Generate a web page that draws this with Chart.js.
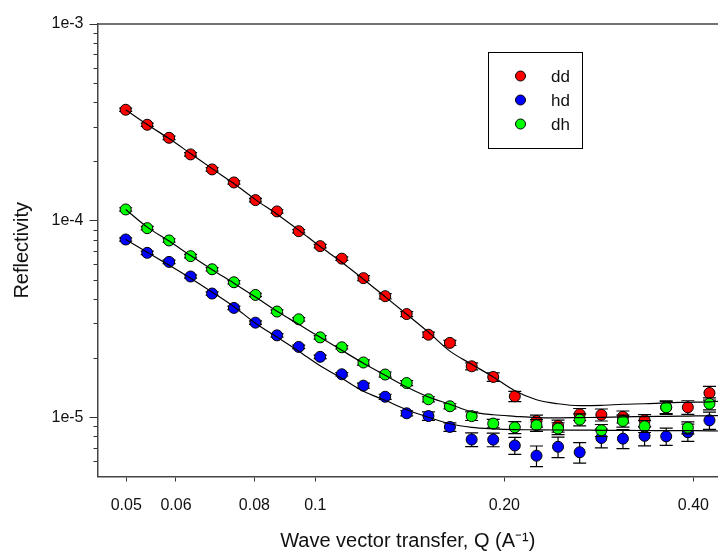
<!DOCTYPE html>
<html>
<head>
<meta charset="utf-8">
<script src="https://cdn.jsdelivr.net/npm/chart.js@4.4.0/dist/chart.umd.min.js"></script>
<style>
  html, body { margin: 0; padding: 0; background: #fff; }
  canvas { display: block; }
</style>
</head>
<body>
<canvas id="refl" width="718" height="559"></canvas>
<script>
// Q values of the measured points (A^-1)
var qData = [0.0499, 0.0540, 0.0585, 0.0633, 0.0685, 0.0742, 0.0803, 0.0869, 0.0941, 0.1018,
             0.1102, 0.1193, 0.1292, 0.1398, 0.1514, 0.1638, 0.1774, 0.1920, 0.2078, 0.2250,
             0.2435, 0.2636, 0.2854, 0.3089, 0.3344, 0.3620, 0.3919, 0.4242];

var ddR = [3.664e-4, 3.074e-4, 2.638e-4, 2.172e-4, 1.822e-4, 1.564e-4, 1.272e-4, 1.114e-4, 8.84e-5, 7.42e-5,
           6.41e-5, 5.10e-5, 4.13e-5, 3.35e-5, 2.63e-5, 2.39e-5, 1.817e-5, 1.604e-5, 1.279e-5, 9.58e-6,
           9.05e-6, 1.036e-5, 1.030e-5, 1.006e-5, 9.65e-6, 1.124e-5, 1.124e-5, 1.329e-5];
var hdR = [8.02e-5, 6.86e-5, 6.17e-5, 5.20e-5, 4.26e-5, 3.60e-5, 3.03e-5, 2.61e-5, 2.28e-5, 2.03e-5,
           1.655e-5, 1.449e-5, 1.272e-5, 1.048e-5, 1.015e-5, 8.93e-6, 7.71e-6, 7.70e-6, 7.19e-6, 6.38e-6,
           7.08e-6, 6.64e-6, 7.85e-6, 7.79e-6, 8.05e-6, 8.00e-6, 8.39e-6, 9.65e-6];
var dhR = [1.140e-4, 9.16e-5, 7.93e-5, 6.60e-5, 5.66e-5, 4.86e-5, 4.19e-5, 3.45e-5, 3.15e-5, 2.55e-5,
           2.27e-5, 1.90e-5, 1.650e-5, 1.493e-5, 1.235e-5, 1.138e-5, 1.014e-5, 9.29e-6, 8.89e-6, 9.11e-6,
           8.77e-6, 9.73e-6, 8.59e-6, 9.58e-6, 9.00e-6, 1.124e-5, 8.86e-6, 1.172e-5];

// relative errors (fraction of the value)
var ddErr = [0.02, 0.02, 0.02, 0.02, 0.02, 0.02, 0.02, 0.02, 0.02, 0.02,
             0.02, 0.03, 0.03, 0.03, 0.03, 0.03, 0.04, 0.05, 0.06, 0.07,
             0.07, 0.07, 0.07, 0.07, 0.07, 0.08, 0.08, 0.08];
var hdErr = [0.02, 0.02, 0.02, 0.02, 0.02, 0.02, 0.02, 0.02, 0.02, 0.02,
             0.02, 0.03, 0.03, 0.03, 0.05, 0.05, 0.08, 0.08, 0.10, 0.12,
             0.12, 0.12, 0.11, 0.11, 0.11, 0.10, 0.10, 0.10];
var dhErr = [0.02, 0.02, 0.02, 0.02, 0.02, 0.02, 0.02, 0.02, 0.02, 0.02,
             0.02, 0.03, 0.03, 0.03, 0.03, 0.03, 0.05, 0.05, 0.07, 0.07,
             0.07, 0.07, 0.07, 0.07, 0.07, 0.07, 0.07, 0.07];

// fitted curves
var qFit = [0.0499, 0.0540, 0.0585, 0.0633, 0.0685, 0.0742, 0.0803, 0.0869, 0.0941, 0.1018,
            0.1102, 0.1193, 0.1292, 0.1398, 0.1514, 0.1638, 0.1774, 0.1920, 0.2078, 0.2250,
            0.2435, 0.2636, 0.2854, 0.3089, 0.3344, 0.3620, 0.3919, 0.4242, 0.4377];
var ddFit = [3.664e-4, 3.08e-4, 2.614e-4, 2.193e-4, 1.839e-4, 1.543e-4, 1.279e-4, 1.079e-4, 8.95e-5, 7.38e-5,
             6.15e-5, 5.04e-5, 4.10e-5, 3.34e-5, 2.71e-5, 2.17e-5, 1.861e-5, 1.604e-5, 1.364e-5, 1.228e-5,
             1.172e-5, 1.147e-5, 1.151e-5, 1.165e-5, 1.172e-5, 1.185e-5, 1.192e-5, 1.199e-5, 1.206e-5];
var hdFit = [8.02e-5, 6.91e-5, 5.94e-5, 5.10e-5, 4.33e-5, 3.65e-5, 3.01e-5, 2.56e-5, 2.17e-5, 1.829e-5,
             1.579e-5, 1.356e-5, 1.220e-5, 1.092e-5, 1.0e-5, 9.27e-6, 8.89e-6, 8.74e-6, 8.66e-6, 8.64e-6,
             8.62e-6, 8.61e-6, 8.59e-6, 8.58e-6, 8.57e-6, 8.56e-6, 8.55e-6, 8.54e-6, 8.52e-6];
var dhFit = [1.140e-4, 9.27e-5, 7.87e-5, 6.64e-5, 5.63e-5, 4.81e-5, 4.09e-5, 3.46e-5, 2.97e-5, 2.55e-5,
             2.19e-5, 1.883e-5, 1.636e-5, 1.426e-5, 1.269e-5, 1.165e-5, 1.066e-5, 1.030e-5, 1.012e-5, 9.97e-6,
             9.94e-6, 9.97e-6, 1.0e-5, 1.006e-5, 1.008e-5, 1.012e-5, 1.015e-5, 1.018e-5, 1.020e-5];

var xTicks = [0.05, 0.06, 0.08, 0.1, 0.2, 0.4];
var xTickLabels = ["0.05", "0.06", "0.08", "0.1", "0.20", "0.40"];
var yTicks = [1e-5, 1e-4, 1e-3];
var yTickLabels = ["1e-5", "1e-4", "1e-3"];
var yMinorTicks = [6e-6, 7e-6, 8e-6, 9e-6,
                   2e-5, 3e-5, 4e-5, 5e-5, 6e-5, 7e-5, 8e-5, 9e-5,
                   2e-4, 3e-4, 4e-4, 5e-4, 6e-4, 7e-4, 8e-4, 9e-4];

var FONT = "'Liberation Sans', Arial, sans-serif";

function pts(xs, ys) {
    return ys.map(function (y, i) { return { x: xs[i], y: y }; });
}

function pointSet(label, color, ys, errs, order) {
    return {
        label: label,
        data: pts(qData, ys),
        errs: errs,
        isData: true,
        showLine: false,
        backgroundColor: color,
        borderColor: "#000",
        borderWidth: 1,
        pointRadius: 5.5,
        order: order
    };
}

function fitSet(ys) {
    return {
        label: "fit",
        data: pts(qFit, ys),
        showLine: true,
        borderColor: "#000",
        borderWidth: 1.2,
        pointRadius: 0,
        cubicInterpolationMode: "monotone",
        order: 0
    };
}

// error bars, drawn just under each data set's markers
var errorBars = {
    id: "errorBars",
    beforeDatasetDraw: function (chart, args) {
        var ds = chart.data.datasets[args.index];
        if (!ds.isData) return;
        var ctx = chart.ctx, xs = chart.scales.x, ys = chart.scales.y;
        ctx.save();
        ctx.strokeStyle = "#000";
        ctx.lineWidth = 1.2;
        ds.data.forEach(function (p, i) {
            var px = xs.getPixelForValue(p.x);
            var top = ys.getPixelForValue(p.y * (1 + ds.errs[i]));
            var bot = ys.getPixelForValue(p.y * (1 - ds.errs[i]));
            ctx.beginPath();
            ctx.moveTo(px, top); ctx.lineTo(px, bot);
            ctx.moveTo(px - 6.5, top); ctx.lineTo(px + 6.5, top);
            ctx.moveTo(px - 6.5, bot); ctx.lineTo(px + 6.5, bot);
            ctx.stroke();
        });
        ctx.restore();
    }
};

// frame top line, minor ticks and the boxed legend
var extras = {
    id: "extras",
    afterDraw: function (chart) {
        var ctx = chart.ctx, a = chart.chartArea, ys = chart.scales.y;
        ctx.save();
        ctx.strokeStyle = "#444";
        ctx.lineWidth = 1.5;
        ctx.beginPath();
        ctx.moveTo(a.left, a.top); ctx.lineTo(chart.width, a.top);
        ctx.stroke();

        ctx.lineWidth = 1;
        ctx.strokeStyle = "#333";
        yMinorTicks.forEach(function (v) {
            var py = Math.round(ys.getPixelForValue(v)) + 0.5;
            ctx.beginPath();
            ctx.moveTo(a.left - 4, py); ctx.lineTo(a.left, py);
            ctx.stroke();
        });

        // legend
        ctx.strokeStyle = "#000";
        ctx.lineWidth = 1;
        ctx.strokeRect(488.5, 52.5, 94, 96);
        var items = chart.data.datasets.filter(function (d) { return d.isData; });
        items.forEach(function (d, i) {
            var cy = 76 + i * 24;
            ctx.beginPath();
            ctx.arc(520.5, cy, 5, 0, Math.PI * 2);
            ctx.fillStyle = d.backgroundColor;
            ctx.fill();
            ctx.stroke();
            ctx.fillStyle = "#111";
            ctx.font = "17px " + FONT;
            ctx.textAlign = "left";
            ctx.textBaseline = "middle";
            ctx.fillText(d.label, 551, cy + 1);
        });
        ctx.restore();
    }
};

var chart = new Chart(document.getElementById("refl"), {
    type: "scatter",
    data: {
        datasets: [
            pointSet("dd", "#ff0000", ddR, ddErr, 3),
            pointSet("hd", "#0000ff", hdR, hdErr, 2),
            pointSet("dh", "#00ff00", dhR, dhErr, 1),
            fitSet(ddFit),
            fitSet(hdFit),
            fitSet(dhFit)
        ]
    },
    options: {
        responsive: false,
        animation: false,
        layout: { autoPadding: false, padding: { top: 24, right: 0, left: 0, bottom: 0 } },
        plugins: {
            legend: { display: false },
            tooltip: { enabled: false }
        },
        scales: {
            x: {
                type: "logarithmic",
                min: 0.045,
                max: 0.4377,
                afterBuildTicks: function (s) {
                    s.ticks = xTicks.map(function (v) { return { value: v }; });
                },
                afterFit: function (s) {
                    s.height = 82.5;
                    s.paddingLeft = 0;
                    s.paddingRight = 0;
                },
                ticks: {
                    autoSkip: false,
                    maxRotation: 0,
                    padding: 14,
                    color: "#111",
                    font: { family: FONT, size: 16 },
                    callback: function (v, i) { return xTickLabels[i]; }
                },
                grid: { drawOnChartArea: false, tickLength: 5, tickColor: "#333" },
                border: { display: true, color: "#444", width: 1.5 },
                title: {
                    display: true,
                    text: "Wave vector transfer, Q (A\u207B\u00B9)",
                    color: "#111",
                    font: { family: FONT, size: 20 },
                    padding: { top: 0, bottom: 6 }
                }
            },
            y: {
                type: "logarithmic",
                min: 5e-6,
                max: 1e-3,
                afterBuildTicks: function (s) {
                    s.ticks = yTicks.map(function (v) { return { value: v }; });
                },
                afterFit: function (s) {
                    s.width = 97.5;
                    s.paddingTop = 0;
                    s.paddingBottom = 0;
                },
                ticks: {
                    autoSkip: false,
                    padding: 6,
                    color: "#111",
                    font: { family: FONT, size: 16 },
                    callback: function (v, i) { return yTickLabels[i]; }
                },
                grid: { drawOnChartArea: false, tickLength: 8, tickColor: "#333" },
                border: { display: true, color: "#444", width: 1.5 },
                title: {
                    display: true,
                    text: "Reflectivity",
                    color: "#111",
                    font: { family: FONT, size: 20 },
                    padding: { top: 10, bottom: 0 }
                }
            }
        }
    },
    plugins: [errorBars, extras]
});
</script>
</body>
</html>
